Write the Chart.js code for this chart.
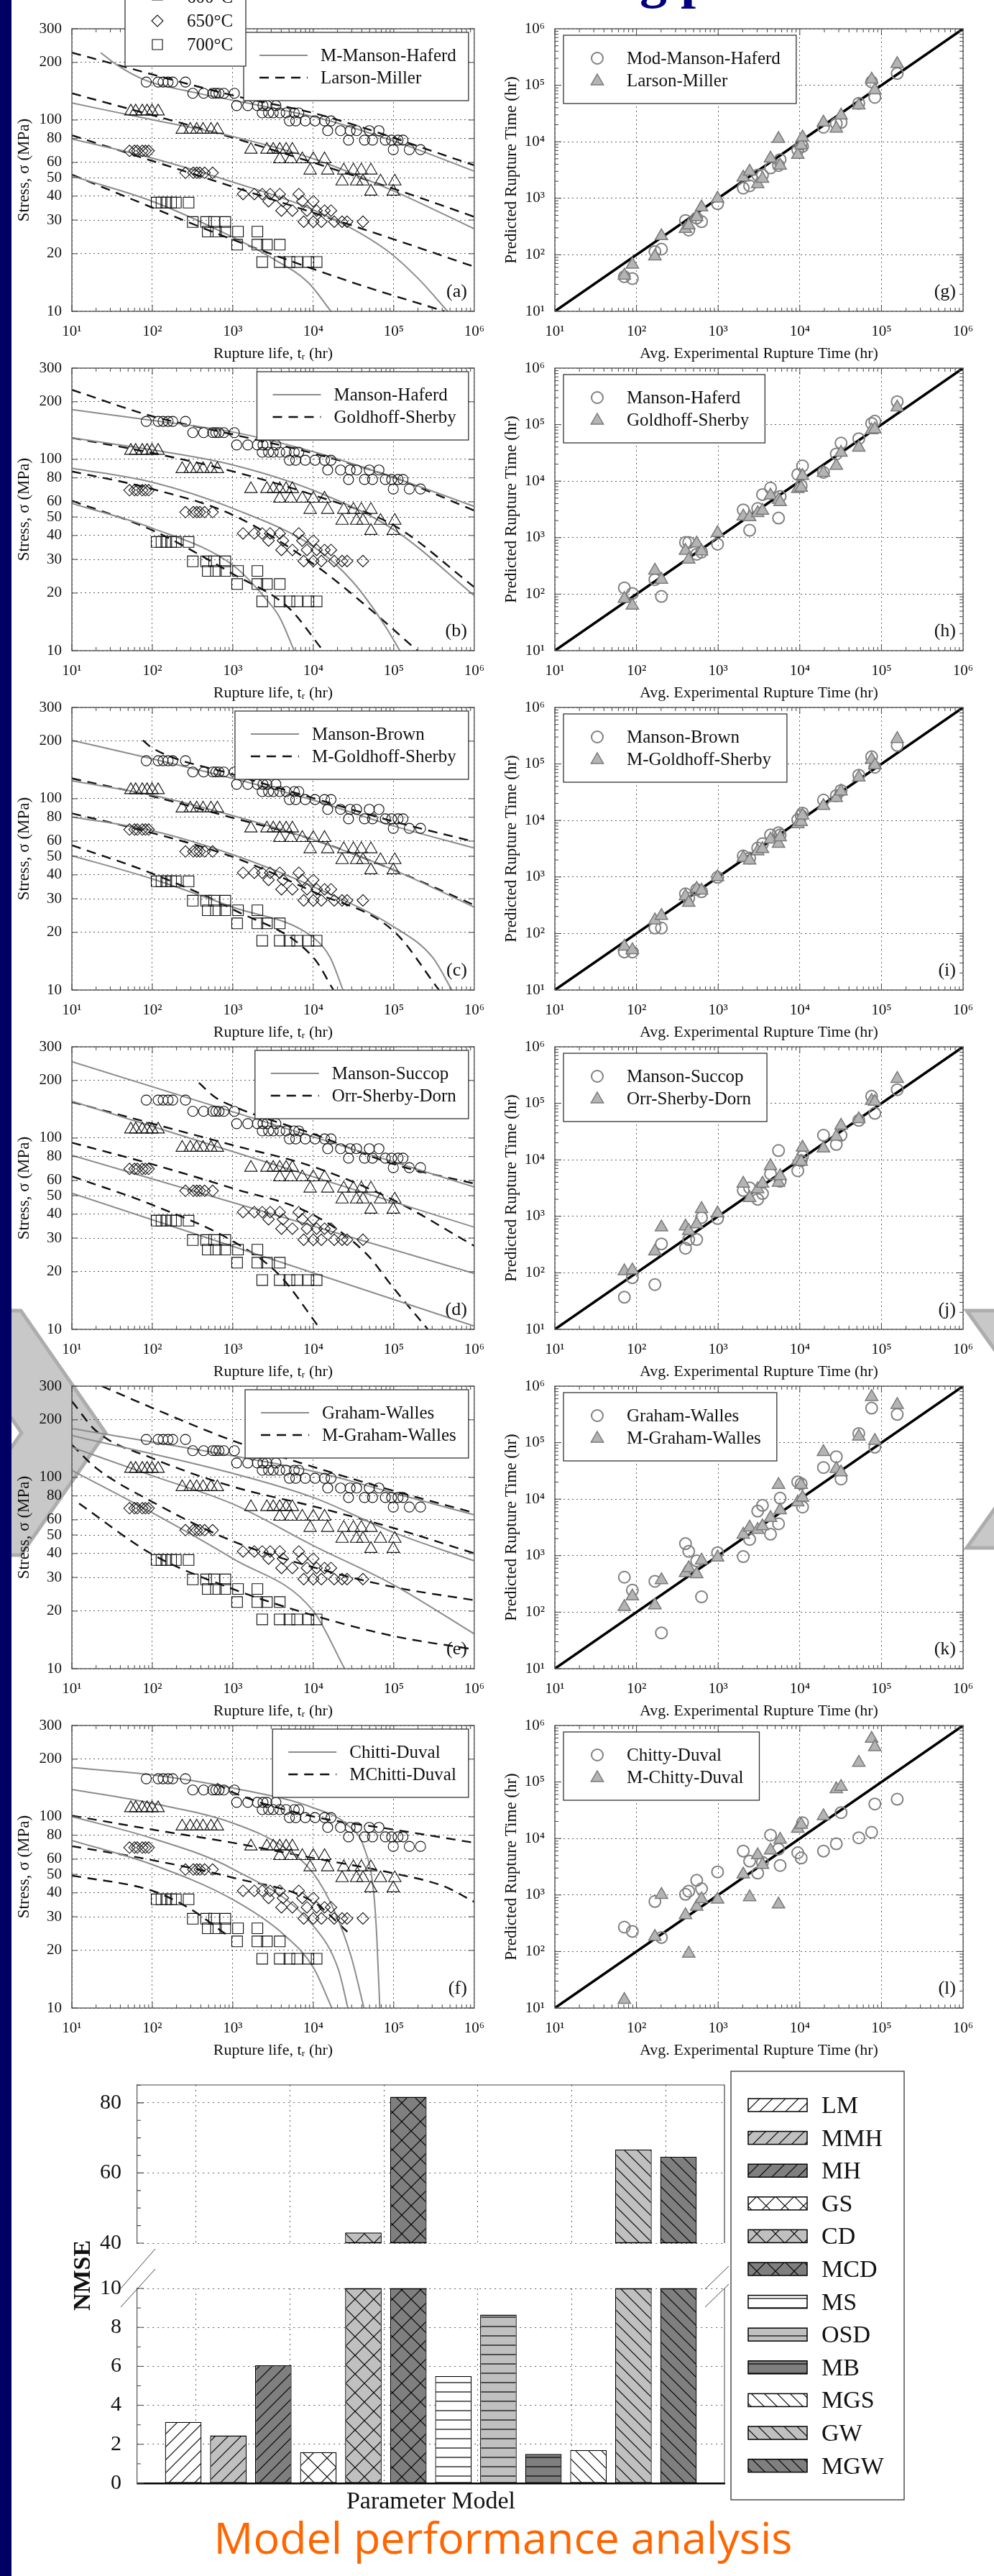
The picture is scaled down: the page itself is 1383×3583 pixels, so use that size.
<!DOCTYPE html>
<html>
<head>
<meta charset="utf-8">
<title>Creep rupture parameter models</title>
<script src="https://cdn.jsdelivr.net/npm/chart.js@4.4.1/dist/chart.umd.min.js"></script>
<style>
  html, body { margin: 0; padding: 0; background: #fff; }
  body { position: relative; width: 1383px; height: 3583px; overflow: hidden; }
  .strip { position: absolute; left: 0; top: 0; width: 16px; height: 3583px; background: #000064; z-index: 4; }
  canvas { position: absolute; z-index: 1; }
  svg.deco { position: absolute; left: 0; top: 0; z-index: 0; }
  .heading { position: absolute; left: 890px; top: -68px; font: bold 76px/76px 'Liberation Serif', serif; color: #000080; white-space: pre; z-index: 2; }
  .nmse { position: absolute; left: 15px; top: 3145px; width: 200px; height: 40px; line-height: 40px; text-align: center;
          font: bold 34px 'Liberation Serif', serif; color: #111; transform: rotate(-90deg); z-index: 3; }
  .footer { position: absolute; left: 0; top: 3498px; width: 1400px; text-align: center; font: 61px/61px 'Open Sans', sans-serif; color: #ff6600; z-index: 2; }
</style>
</head>
<body>
<div class="strip"></div>
<svg class="deco" width="1383" height="3583">
  <polygon points="-88,1823 29,1823 147,1993 29,2163 -88,2163 30,1993" fill="#c8c8c8" stroke="#adadad" stroke-width="5"/>
  <polygon points="1345,1823 1462,1823 1580,1988 1462,2153 1345,2153 1463,1988" fill="#c8c8c8" stroke="#adadad" stroke-width="5"/>
</svg>
<div class="heading">g p</div>
<div class="nmse">NMSE</div>
<div class="footer">Model performance analysis</div>

<script>
// ---------- experimental data (rupture life hr, stress MPa) ----------
const exp550 = [[84,158],[118,158],[136,158],[157,158],[179,158],[258,158],
  [318,138],[434,138],[561,138],[615,138],[674,138],[773,138],[1045,138],
  [1115,119],[1535,119],[2018,119],[2370,119],[2650,119],[3430,119],
  [2320,109],[2780,109],[3180,109],[3830,109],[4600,109],[5800,109],[6600,109],
  [5050,99],[6050,99],[7960,99],[10500,99],[13800,99],[16600,99],
  [15100,88],[21800,88],[28700,88],[34500,88],[49700,88],[65400,88],
  [27400,78.5],[43300,78.5],[54400,78.5],[78600,78.5],[94000,78.5],[113000,78.5],[130000,78.5],
  [98600,70],[156000,70],[215000,70]];
const exp600 = [[54,111],[62,111],[75,111],[86,111],[99,111],[118,111],
  [235,89],[296,89],[356,89],[427,89],[536,89],[643,89],
  [1680,70],[2650,70],[3180,70],[3830,70],[4600,70],[5500,70],
  [3830,62.4],[5270,62.4],[7300,62.4],[10000,62.4],[13800,62.4],
  [9140,54.5],[15100,54.5],[23900,54.5],[31500,54.5],[39500,54.5],[52000,54.5],
  [22800,47.8],[34500,47.8],[41400,47.8],[68400,47.8],[103000,47.8],
  [52000,42.3],[98600,42.3]];
const exp650 = [[52,69],[60,69],[65,69],[75,69],[82,69],[90,69],
  [258,53],[323,53],[356,53],[389,53],[446,53],[561,53],
  [1340,41],[1850,41],[2320,41],[2910,41],[3830,41],[6600,41],
  [2780,37.6],[4200,37.6],[7300,37.6],[10000,37.6],
  [4020,33.6],[5500,33.6],[8340,33.6],[11000,33.6],[13800,33.6],[16600,33.6],
  [7600,29.4],[10000,29.4],[12600,29.4],[18200,29.4],[22800,29.4],[26300,29.4],[41400,29.4]];
const exp700 = [[113,37],[130,37],[149,37],[171,37],[196,37],[282,37],
  [318,29.3],[466,29.3],[586,29.3],[806,29.3],
  [488,26.1],[616,26.1],[806,26.1],[1160,26.1],[2020,26.1],
  [1130,22.3],[2020,22.3],[2650,22.3],[3830,22.3],
  [2320,18.1],[3830,18.1],[5050,18.1],[6300,18.1],[8700,18.1],[11000,18.1]];

// ---------- model curves, one array per temperature (550, 600, 650, 700 C) ----------
const mmhCurves = [
  [[22.8,225],[36,194.5],[82,161.5],[324,139.6],[1064,126.2],[12590,101.7],[124000,75.2],[1e6,54]],
  [[10,122.7],[100,100.3],[1000,82],[10470,62.4],[103000,42.3],[1e6,27]],
  [[10,79.6],[100,63.2],[1000,47.4],[10500,33.6],[78600,21.1],[196000,15],[468000,10]],
  [[10,51],[100,37.6],[1000,24.4],[3190,18.8],[8700,14.1],[16600,10]]];
const lmCurves = [
  [[10,225],[1000,134.5],[12600,106],[1e6,58]],
  [[10,138],[1000,80.7],[103000,43.5],[1e6,31.2]],
  [[10,83.2],[1000,44.8],[103000,23.7],[1e6,17.1]],
  [[10,51.8],[1000,23.7],[31500,14.1],[427000,10]]];
const mhCurves = [
  [[10,182],[100,160],[1000,139],[10500,109],[103000,80],[1e6,56.8]],
  [[10,129.5],[100,112],[1000,93.5],[10500,68.3],[103000,42.6],[1e6,19.4]],
  [[10,90],[100,75.9],[1000,55.4],[10500,34.5],[31500,22.7],[78600,13.4],[119000,10]],
  [[10,58.9],[100,43.7],[1000,28],[2650,18.4],[3830,14.9],[5780,10]]];
const gsCurves = [
  [[10,231],[100,168],[1000,135],[10500,107],[103000,80],[1e6,54]],
  [[10,129.5],[100,108],[1000,86.5],[10500,64.7],[103000,44.9],[1e6,21.5]],
  [[10,86.5],[100,70],[1000,51.2],[10500,28],[49700,16.6],[196000,10]],
  [[10,60.8],[100,42.6],[1000,25.2],[5050,16.6],[13200,10]]];
const mbCurves = [
  [[10,202],[100,161.6],[1000,127.6],[10000,98.2],[100000,72],[1e6,55.2]],
  [[10,124],[100,104.4],[1000,81.6],[10000,61.1],[100000,42.4],[1e6,27.1]],
  [[10,80.4],[100,68],[1000,51],[10000,34.7],[100000,21.4],[304000,14.8],[527000,10]],
  [[10,50.4],[100,38.1],[1000,27.1],[10000,18.8],[16200,14.8],[23400,10]]];
const mgsCurves = [
  [[76.4,202],[100,184],[1000,134],[10000,100.7],[100000,76],[1e6,59.6]],
  [[10,127.7],[100,103],[1000,79.4],[10000,61.1],[100000,42.4],[1e6,27.8]],
  [[10,83.8],[100,66.2],[1000,49.6],[10000,32.6],[100000,20.3],[365000,10]],
  [[10,57.1],[100,40.6],[1000,26.4],[10000,14.8],[17800,10]]];
const msCurves = [
  [[10,250.6],[1e6,55.5]],
  [[10,155.8],[1e6,34.2]],
  [[10,81.3],[1e6,19.6]],
  [[10,51.5],[1e6,10.4]]];
const osdCurves = [
  [[379,194.5],[600,163.7],[1040,145.9],[10300,104.5],[101000,72.9],[1e6,57.8]],
  [[10,154.5],[100,119],[1000,91.8],[10000,70.8],[100000,47.3],[1e6,27.3]],
  [[10,94.6],[100,72.9],[1000,54.6],[10000,39.7],[44500,25.1],[101000,16.3],[265000,10]],
  [[10,63.1],[100,44.7],[1000,28.9],[3750,19.3],[12300,10]]];
const gwCurves = [
  [[10,180],[1000,129.5],[10000,107.6],[100000,82.8],[1e6,63.7]],
  [[10,165.6],[1000,105],[10000,78.5],[100000,51.5],[1e6,36.6]],
  [[10,143.8],[100,102],[1000,72.6],[10000,44],[100000,27.4],[1e6,15.2]],
  [[10,108.9],[100,65.3],[1000,37.6],[10000,20],[24500,10]]];
const mgwCurves = [
  [[23.5,300],[100,230.7],[1000,155.6],[10000,113.5],[100000,85],[1e6,65.3]],
  [[10,250],[20,175],[100,126],[1000,89.5],[10000,70.6],[100000,54.3],[1e6,40.1]],
  [[10,148],[20,112],[100,74.5],[1000,46.4],[10000,33.9],[100000,26.7],[1e6,22.8]],
  [[12.3,73],[100,39.6],[1000,26.1],[10000,19],[100000,14.8],[1e6,12.6]]];
const cdCurves = [
  [[10,180.7],[100,165.5],[1000,141.4],[10000,111.4],[26900,90.3],[42600,69.3],[56000,41],[61300,24.2],[67100,10]],
  [[10,139],[100,117.5],[1000,92.7],[4310,69.3],[10000,50.6],[18700,31.5],[29500,18.6],[42600,10]],
  [[10,100.2],[100,77.1],[1000,53.3],[10000,26.9],[20500,15.9],[26900,10]],
  [[10,75.2],[100,56.2],[1000,36.9],[4310,24.2],[10000,16.3],[17000,10]]];
const mcdCurves = [
  [[631,149],[1000,134],[10000,100.3],[100000,85.7],[1e6,73.1]],
  [[10,101.4],[100,85.7],[1000,73.1],[10000,60.8],[100000,50.6],[419000,43.3],[1e6,35.9]],
  [[10,70.2],[100,59.3],[1000,48],[10000,35.9],[26900,24.9]],
  [[10,49.3],[100,41],[288,33.2],[832,24.2]]];

// ---------- predicted vs. average experimental rupture time (hr) ----------
const expTime = [71,89,168,202,398,436,546,626,984,2030,2430,3050,3490,4380,5490,5745,9450,10400,10800,19500,28000,32000,52800,75800,83000,156000];
const predMMH = [41,38,114,126,405,274,446,386,801,1510,1660,2570,2570,3450,3800,4850,7170,9130,8300,18100,20900,22000,47900,115000,61000,162000];
const predLM  = [43,67,94,215,288,333,469,692,993,2340,2980,1780,2230,5090,11300,3800,5890,8700,12000,22000,17200,29400,44300,127000,81900,239000];
const predMH  = [129,103,181,91,820,820,507,554,764,3100,1350,3275,5780,7550,2220,5370,13100,8260,18600,14300,30200,47100,56300,105000,115000,255000];
const predGS  = [83,63,263,181,585,410,791,575,1210,2380,2300,2740,3000,5580,4680,4280,7280,7690,12400,14100,18700,31900,39400,80200,83000,202000];
const predMB  = [47,47,125,125,502,420,599,548,986,2360,2160,3250,3880,5540,6050,5540,10300,12300,13500,23000,27500,34000,63400,134000,87300,213000];
const predMGS = [59,51,172,206,459,351,621,578,1000,2200,1970,2860,3130,4640,3880,5070,8650,9450,12300,18200,25100,32800,58000,120000,95500,278000];
const predMS  = [37,82,62,325,272,388,388,948,914,2870,3190,2000,2530,5650,14600,4170,6400,9650,11500,27200,18700,27200,49900,133000,66400,174000];
const predOSD = [107,111,240,640,664,555,725,1355,1133,3810,2120,3030,3810,7780,3950,5170,9650,9300,16500,15900,25700,40300,52600,111000,107000,272000];
const predGW  = [416,245,352,43,1630,1190,807,187,1130,962,1940,6140,7760,2400,3660,10400,20200,18700,7240,36300,56300,22700,145000,408000,83200,316000];
const predMGW = [124,191,133,370,495,603,472,822,933,2360,3160,2870,3320,4670,18000,6380,8810,18000,10700,68400,34500,29900,129000,645000,108000,468000];
const predCD  = [270,227,769,177,1030,1170,1820,1290,2560,6000,3980,2440,3790,11500,6490,3330,5600,4520,19000,6000,8050,28700,10300,12900,40800,49600];
const predMCD = [14,null,183,1010,441,92,621,849,832,2320,918,5080,3440,6180,684,9590,14900,17600,null,25000,74800,82600,220000,584000,415000,null];

// ---------- NMSE bar chart ----------
const nmseModels = ['LM','MMH','MH','GS','CD','MCD','MS','OSD','MB','MGS','GW','MGW'];
const nmseValues = [3.15, 2.45, 6.05, 1.6, 43, 81.7, 5.5, 8.65, 1.5, 1.7, 66.7, 64.6];

// ---------- ticks and labels ----------
const stressTicks = [10, 20, 30, 40, 50, 60, 80, 100, 200, 300];
const timeTicks = [10, 100, 1000, 1e4, 1e5, 1e6];
const lowerTicks = [0, 2, 4, 6, 8, 10];
const upperTicks = [40, 60, 80];
const tempLabels = ['600°C', '650°C', '700°C'];

// ---------- styling ----------
const serif = "'Liberation Serif', 'DejaVu Serif', serif";
Chart.defaults.font.family = serif;
Chart.defaults.color = '#111';
const sup = { 1: '\u00b9', 2: '\u00b2', 3: '\u00b3', 4: '\u2074', 5: '\u2075', 6: '\u2076' };
const decadeLabel = function (v) { return '10' + sup[Math.round(Math.log10(v))]; };
const gridDash = [2, 4];
const gridColor = 'rgba(40,40,40,0.75)';

function drawMark(ctx, style, x, y, r, fill, stroke, lw) {
    ctx.save();
    ctx.beginPath();
    if (style === 'circle') {
        ctx.arc(x, y, r, 0, Math.PI * 2);
    } else if (style === 'triangle') {
        ctx.moveTo(x, y - r);
        ctx.lineTo(x + r * 0.866, y + r * 0.5);
        ctx.lineTo(x - r * 0.866, y + r * 0.5);
        ctx.closePath();
    } else if (style === 'rectRot') {
        ctx.moveTo(x - r, y); ctx.lineTo(x, y - r); ctx.lineTo(x + r, y); ctx.lineTo(x, y + r);
        ctx.closePath();
    } else {
        const s = r * Math.SQRT1_2;
        ctx.rect(x - s, y - s, 2 * s, 2 * s);
    }
    if (fill) { ctx.fillStyle = fill; ctx.fill(); }
    ctx.lineWidth = lw; ctx.strokeStyle = stroke; ctx.stroke();
    ctx.restore();
}

const panelDecor = {
    id: 'panelDecor',
    afterDraw: function (chart, args, o) {
        const ctx = chart.ctx;
        const a = chart.chartArea;
        const xs = chart.scales.x;
        const ys = chart.scales.y;
        ctx.save();
        ctx.strokeStyle = '#444';
        ctx.lineWidth = 1;
        ctx.beginPath();
        for (let e = 1; e < 6; e++) {
            for (let k = 1; k < 10; k++) {
                const v = k * Math.pow(10, e);
                const len = k === 1 ? 9 : 5;
                const px = xs.getPixelForValue(v);
                ctx.moveTo(px, a.bottom); ctx.lineTo(px, a.bottom - len);
                ctx.moveTo(px, a.top); ctx.lineTo(px, a.top + len);
                if (o.logY) {
                    const py = ys.getPixelForValue(v);
                    ctx.moveTo(a.left, py); ctx.lineTo(a.left + len, py);
                    ctx.moveTo(a.right, py); ctx.lineTo(a.right - len, py);
                }
            }
        }
        if (!o.logY) {
            stressTicks.forEach(function (v) {
                const py = ys.getPixelForValue(v);
                ctx.moveTo(a.left, py); ctx.lineTo(a.left + 8, py);
                ctx.moveTo(a.right, py); ctx.lineTo(a.right - 8, py);
            });
        }
        ctx.stroke();

        ctx.lineWidth = 1.4;
        ctx.strokeStyle = '#555';
        ctx.strokeRect(a.left, a.top, a.right - a.left, a.bottom - a.top);

        // legend box
        ctx.font = '25px ' + serif;
        const items = o.items;
        const tw = Math.max.apply(null, items.map(function (it) { return ctx.measureText(it.label).width; }));
        let bx, by, w;
        const h = 95;
        if (o.logY) {
            w = 88 + tw + 22; bx = a.left + 12; by = a.top + 9;
        } else {
            w = 124 + tw; bx = a.right - 8 - w; by = a.top + 5;
        }
        ctx.fillStyle = '#fff';
        ctx.fillRect(bx, by, w, h);
        ctx.lineWidth = 1.3; ctx.strokeStyle = '#333';
        ctx.strokeRect(bx, by, w, h);
        items.forEach(function (it, i) {
            const ry = by + 32 + i * 31;
            if (it.kind === 'solid' || it.kind === 'dashed') {
                ctx.save();
                ctx.beginPath();
                ctx.setLineDash(it.kind === 'dashed' ? [13, 9] : []);
                ctx.strokeStyle = it.kind === 'dashed' ? '#111' : '#8c8c8c';
                ctx.lineWidth = it.kind === 'dashed' ? 2.4 : 2;
                ctx.moveTo(bx + 22, ry); ctx.lineTo(bx + 89, ry);
                ctx.stroke();
                ctx.restore();
                ctx.fillStyle = '#111'; ctx.textAlign = 'left'; ctx.textBaseline = 'middle';
                ctx.fillText(it.label, bx + 107, ry + 1);
            } else {
                if (it.kind === 'circle') drawMark(ctx, 'circle', bx + 47, ry, 8, null, '#808080', 2);
                else drawMark(ctx, 'triangle', bx + 47, ry + 1, 10, '#b4b4b4', '#7a7a7a', 1.5);
                ctx.fillStyle = '#111'; ctx.textAlign = 'left'; ctx.textBaseline = 'middle';
                ctx.fillText(it.label, bx + 88, ry + 1);
            }
        });

        // temperature legend (only the first panel, cut off by the page top)
        if (o.temps) {
            const tx = a.left + 74;
            ctx.fillStyle = '#fff';
            ctx.fillRect(tx, a.top - 90, 168, 142);
            ctx.lineWidth = 1.3; ctx.strokeStyle = '#333';
            ctx.strokeRect(tx, a.top - 90, 168, 142);
            const styles = ['triangle', 'rectRot', 'rect'];
            ctx.font = '25px ' + serif;
            tempLabels.forEach(function (lab, i) {
                const ry = a.top - 44 + i * 33;
                drawMark(ctx, styles[i], tx + 45, ry, styles[i] === 'rect' ? 10 : 8, null, '#111', 1.1);
                ctx.fillStyle = '#111'; ctx.textAlign = 'left'; ctx.textBaseline = 'middle';
                ctx.fillText(lab, tx + 86, ry + 1);
            });
        }

        ctx.font = '26px ' + serif;
        ctx.fillStyle = '#111'; ctx.textAlign = 'right'; ctx.textBaseline = 'alphabetic';
        ctx.fillText(o.letter, a.right - 10, a.bottom - 20);
        ctx.restore();
    }
};

function pts(arr) {
    return arr.map(function (p) { return { x: p[0], y: p[1] }; });
}
function markerSet(arr, style, r) {
    return {
        data: pts(arr), showLine: false, pointStyle: style, pointRadius: r,
        pointBackgroundColor: 'rgba(255,255,255,0)', pointBorderColor: '#111', pointBorderWidth: 1.1
    };
}
function curveSet(arr, dashed) {
    return {
        data: pts(arr), showLine: true, pointRadius: 0, fill: false,
        borderColor: dashed ? '#111' : '#8c8c8c', borderWidth: dashed ? 2.4 : 2,
        borderDash: dashed ? [13, 9] : [], cubicInterpolationMode: 'monotone'
    };
}

function logAxis(min, max, ticks, labelFn, title, width, isX, titlePad) {
    const axis = {
        type: 'logarithmic', min: min, max: max,
        afterBuildTicks: function (s) { s.ticks = ticks.map(function (v) { return { value: v }; }); },
        ticks: { callback: labelFn, font: { size: 21 }, color: '#111', autoSkip: false, maxRotation: 0, padding: isX ? 16 : 14 },
        grid: { color: gridColor, lineWidth: 1, drawTicks: false, borderDash: gridDash },
        border: { display: false, dash: gridDash },
        title: { display: true, text: title, font: { size: isX ? 22 : 23 }, color: '#111', padding: isX ? 0 : { top: titlePad, bottom: 0 } }
    };
    axis.afterFit = isX ? function (s) { s.height = 72; } : function (s) { s.width = width; };
    return axis;
}

function addCanvas(left, top, w, h) {
    const cv = document.createElement('canvas');
    cv.width = w; cv.height = h;
    cv.style.left = left + 'px'; cv.style.top = top + 'px';
    cv.style.width = w + 'px'; cv.style.height = h + 'px';
    document.body.appendChild(cv);
    return cv;
}

const panelTops = [40, 512, 984, 1456, 1928, 2400];

const leftPanels = [
    { letter: '(a)', names: ['M-Manson-Haferd', 'Larson-Miller'], solid: mmhCurves, dashed: lmCurves, temps: true },
    { letter: '(b)', names: ['Manson-Haferd', 'Goldhoff-Sherby'], solid: mhCurves, dashed: gsCurves },
    { letter: '(c)', names: ['Manson-Brown', 'M-Goldhoff-Sherby'], solid: mbCurves, dashed: mgsCurves },
    { letter: '(d)', names: ['Manson-Succop', 'Orr-Sherby-Dorn'], solid: msCurves, dashed: osdCurves },
    { letter: '(e)', names: ['Graham-Walles', 'M-Graham-Walles'], solid: gwCurves, dashed: mgwCurves },
    { letter: '(f)', names: ['Chitti-Duval', 'MChitti-Duval'], solid: cdCurves, dashed: mcdCurves }
];

const rightPanels = [
    { letter: '(g)', names: ['Mod-Manson-Haferd', 'Larson-Miller'], circ: predMMH, tri: predLM },
    { letter: '(h)', names: ['Manson-Haferd', 'Goldhoff-Sherby'], circ: predMH, tri: predGS },
    { letter: '(i)', names: ['Manson-Brown', 'M-Goldhoff-Sherby'], circ: predMB, tri: predMGS },
    { letter: '(j)', names: ['Manson-Succop', 'Orr-Sherby-Dorn'], circ: predMS, tri: predOSD },
    { letter: '(k)', names: ['Graham-Walles', 'M-Graham-Walles'], circ: predGW, tri: predMGW },
    { letter: '(l)', names: ['Chitty-Duval', 'M-Chitty-Duval'], circ: predCD, tri: predMCD }
];

leftPanels.forEach(function (p, i) {
    const cv = addCanvas(0, panelTops[i] - 40, 690, 510);
    const ds = [
        markerSet(exp550, 'circle', 7),
        markerSet(exp600, 'triangle', 10),
        markerSet(exp650, 'rectRot', 8),
        markerSet(exp700, 'rect', 10.5)
    ];
    p.solid.forEach(function (c) { ds.push(curveSet(c, false)); });
    p.dashed.forEach(function (c) { ds.push(curveSet(c, true)); });
    new Chart(cv, {
        type: 'scatter',
        data: { datasets: ds },
        options: {
            responsive: false, animation: false, devicePixelRatio: 1,
            layout: { padding: { left: 20, right: 28, top: 40, bottom: 5 } },
            plugins: {
                legend: { display: false }, tooltip: { enabled: false },
                panelDecor: {
                    letter: p.letter, temps: !!p.temps, logY: false,
                    items: [{ label: p.names[0], kind: 'solid' }, { label: p.names[1], kind: 'dashed' }]
                }
            },
            scales: {
                x: logAxis(10, 1e6, timeTicks, decadeLabel, 'Rupture life, t\u1d63 (hr)', 0, true),
                y: logAxis(10, 300, stressTicks, function (v) { return String(v); }, 'Stress, \u03c3 (MPa)', 80, false, 0)
            }
        },
        plugins: [panelDecor]
    });
});

rightPanels.forEach(function (p, i) {
    const cv = addCanvas(690, panelTops[i] - 40, 693, 510);
    const circ = expTime.map(function (t, k) { return { x: t, y: p.circ[k] }; });
    const tri = expTime.map(function (t, k) { return { x: t, y: p.tri[k] }; });
    new Chart(cv, {
        type: 'scatter',
        data: {
            datasets: [
                { data: tri, pointStyle: 'triangle', pointRadius: 10, pointBackgroundColor: '#b4b4b4', pointBorderColor: '#7a7a7a', pointBorderWidth: 1.5 },
                { data: circ, pointStyle: 'circle', pointRadius: 8, pointBackgroundColor: 'rgba(255,255,255,0)', pointBorderColor: '#808080', pointBorderWidth: 2 },
                { data: [{ x: 10, y: 10 }, { x: 1e6, y: 1e6 }], showLine: true, pointRadius: 0, borderColor: '#000', borderWidth: 3.5 }
            ]
        },
        options: {
            responsive: false, animation: false, devicePixelRatio: 1,
            layout: { padding: { left: 0, right: 43, top: 40, bottom: 5 } },
            plugins: {
                legend: { display: false }, tooltip: { enabled: false },
                panelDecor: {
                    letter: p.letter, logY: true,
                    items: [{ label: p.names[0], kind: 'circle' }, { label: p.names[1], kind: 'triangle' }]
                }
            },
            scales: {
                x: logAxis(10, 1e6, timeTicks, decadeLabel, 'Avg. Experimental Rupture Time (hr)', 0, true),
                y: logAxis(10, 1e6, timeTicks, decadeLabel, 'Predicted Rupture Time (hr)', 82, false, 8)
            }
        },
        plugins: [panelDecor]
    });
});

// ---------- NMSE bars with broken axis ----------
const fillShade = { w: '#ffffff', l: '#c0c0c0', d: '#7f7f7f' };
const barShade = ['w', 'l', 'd', 'w', 'l', 'd', 'w', 'l', 'd', 'w', 'l', 'd'];
const barHatch = ['/', '/', '/', 'x', 'x', 'x', '-', '-', '-', '\\', '\\', '\\'];

function makePattern(bg, kind) {
    const s = kind === 'x' ? 26 : (kind === '-' ? 13 : 18);
    const tile = document.createElement('canvas');
    tile.width = s; tile.height = s;
    const g = tile.getContext('2d');
    g.fillStyle = bg; g.fillRect(0, 0, s, s);
    g.strokeStyle = '#000'; g.lineWidth = 1.2;
    g.beginPath();
    if (kind === '/' || kind === 'x') {
        g.moveTo(0, s); g.lineTo(s, 0);
        g.moveTo(-2, 2); g.lineTo(2, -2);
        g.moveTo(s - 2, s + 2); g.lineTo(s + 2, s - 2);
    }
    if (kind === '\\' || kind === 'x') {
        g.moveTo(0, 0); g.lineTo(s, s);
        g.moveTo(s - 2, -2); g.lineTo(s + 2, 2);
        g.moveTo(-2, s - 2); g.lineTo(2, s + 2);
    }
    if (kind === '-') {
        g.moveTo(0, s - 1); g.lineTo(s, s - 1);
    }
    g.stroke();
    return g.createPattern(tile, 'repeat');
}

const barPatterns = nmseModels.map(function (m, i) { return makePattern(fillShade[barShade[i]], barHatch[i]); });

function barSets() {
    return nmseModels.map(function (m, i) {
        return {
            label: m, data: [nmseValues[i]], backgroundColor: barPatterns[i],
            borderColor: '#000', borderWidth: 1.3, borderSkipped: false,
            categoryPercentage: 0.92, barPercentage: 0.81
        };
    });
}

const vGrid = {
    type: 'linear', position: 'top', min: 0, max: 1, display: true,
    afterBuildTicks: function (s) { s.ticks = [0.1, 0.3, 0.5, 0.7, 0.9].map(function (v) { return { value: v }; }); },
    afterFit: function (s) { s.height = 0; },
    ticks: { display: false },
    grid: { color: gridColor, drawTicks: false, borderDash: [2, 5] },
    border: { display: false, dash: [2, 5] }
};

function nmseY(min, max, ticks) {
    return {
        min: min, max: max,
        afterBuildTicks: function (s) { s.ticks = ticks.map(function (v) { return { value: v }; }); },
        afterFit: function (s) { s.width = 191; },
        ticks: { font: { size: 30 }, color: '#111', padding: 22 },
        grid: { color: gridColor, drawTicks: false, borderDash: [2, 5] },
        border: { display: true, color: '#555', width: 1.2, dash: [2, 5] }
    };
}

// solid edge where a bar is cut by the axis break
function breakEdges(chart, edgeY, test) {
    const ctx = chart.ctx;
    ctx.save();
    ctx.strokeStyle = '#000'; ctx.lineWidth = 1.5;
    ctx.beginPath();
    chart.data.datasets.forEach(function (d, i) {
        if (!test(d.data[0])) return;
        const bar = chart.getDatasetMeta(i).data[0];
        ctx.moveTo(bar.x - bar.width / 2, edgeY); ctx.lineTo(bar.x + bar.width / 2, edgeY);
    });
    ctx.stroke();
    ctx.restore();
}

const nmseLowerDecor = {
    id: 'nmseLowerDecor',
    afterDraw: function (chart) {
        const ctx = chart.ctx;
        const a = chart.chartArea;
        const ys = chart.scales.y;
        breakEdges(chart, a.top + 0.5, function (v) { return v > ys.max; });
        ctx.save();
        ctx.strokeStyle = '#444'; ctx.lineWidth = 1;
        ctx.beginPath();
        for (let v = 0; v <= 10; v++) {
            const py = ys.getPixelForValue(v);
            ctx.moveTo(a.left, py); ctx.lineTo(a.left + (v % 2 === 0 ? 9 : 5), py);
        }
        ctx.moveTo(a.right, a.top); ctx.lineTo(a.right, a.bottom);
        // break marks (page y minus canvas top)
        ctx.moveTo(168, 323); ctx.lineTo(216, 268);
        ctx.moveTo(168, 349); ctx.lineTo(216, 296);
        ctx.moveTo(981, 324); ctx.lineTo(1014, 292);
        ctx.moveTo(981, 349); ctx.lineTo(1014, 317);
        ctx.stroke();

        // legend
        const bx = 1017, by = 21, bw = 241, bh = 596;
        ctx.fillStyle = '#fff';
        ctx.fillRect(bx, by, bw, bh);
        ctx.lineWidth = 1.3; ctx.strokeStyle = '#333';
        ctx.strokeRect(bx, by, bw, bh);
        ctx.font = '34px ' + serif;
        ctx.textAlign = 'left'; ctx.textBaseline = 'middle';
        chart.data.datasets.forEach(function (d, i) {
            const ry = 68 + i * 45.6;
            ctx.fillStyle = d.backgroundColor;
            ctx.fillRect(1041, ry - 9, 82, 18);
            ctx.lineWidth = 1.5; ctx.strokeStyle = '#000';
            ctx.strokeRect(1041, ry - 9, 82, 18);
            ctx.fillStyle = '#111';
            ctx.fillText(d.label, 1143, ry + 2);
        });
        ctx.restore();
    }
};

const nmseUpperDecor = {
    id: 'nmseUpperDecor',
    afterDraw: function (chart) {
        const ctx = chart.ctx;
        const a = chart.chartArea;
        const ys = chart.scales.y;
        breakEdges(chart, a.bottom - 0.5, function (v) { return v > ys.min; });
        ctx.save();
        ctx.strokeStyle = '#444'; ctx.lineWidth = 1.2;
        ctx.beginPath();
        for (let v = 40; v <= 85; v += 5) {
            const py = ys.getPixelForValue(v);
            ctx.moveTo(a.left, py); ctx.lineTo(a.left + (v % 20 === 0 ? 9 : 5), py);
        }
        ctx.moveTo(a.left, a.top); ctx.lineTo(a.right, a.top); ctx.lineTo(a.right, a.bottom);
        ctx.stroke();
        ctx.restore();
    }
};

const lowerCv = addCanvas(0, 2860, 1383, 640);
new Chart(lowerCv, {
    type: 'bar',
    data: { labels: [''], datasets: barSets() },
    options: {
        responsive: false, animation: false, devicePixelRatio: 1,
        layout: { padding: { left: 0, right: 375, top: 323, bottom: 0 } },
        plugins: { legend: { display: false }, tooltip: { enabled: false } },
        scales: {
            x: {
                afterFit: function (s) { s.height = 46; },
                ticks: { display: false },
                grid: { display: false },
                border: { display: true, color: '#000', width: 2.5 },
                title: { display: true, text: 'Parameter Model', font: { size: 34 }, color: '#111', padding: 0 }
            },
            xg: vGrid,
            y: nmseY(0, 10, lowerTicks)
        }
    },
    plugins: [nmseLowerDecor]
});

const upperCv = addCanvas(0, 2860, 1383, 300);
upperCv.style.zIndex = 2;
new Chart(upperCv, {
    type: 'bar',
    data: { labels: [''], datasets: barSets() },
    options: {
        responsive: false, animation: false, devicePixelRatio: 1,
        layout: { padding: { left: 0, right: 375, top: 21, bottom: 5 } },
        plugins: { legend: { display: false }, tooltip: { enabled: false } },
        scales: {
            x: { display: false },
            xg: Object.assign({}, vGrid),
            y: nmseY(40, 85.1, upperTicks)
        }
    },
    plugins: [nmseUpperDecor]
});
</script>
</body>
</html>
